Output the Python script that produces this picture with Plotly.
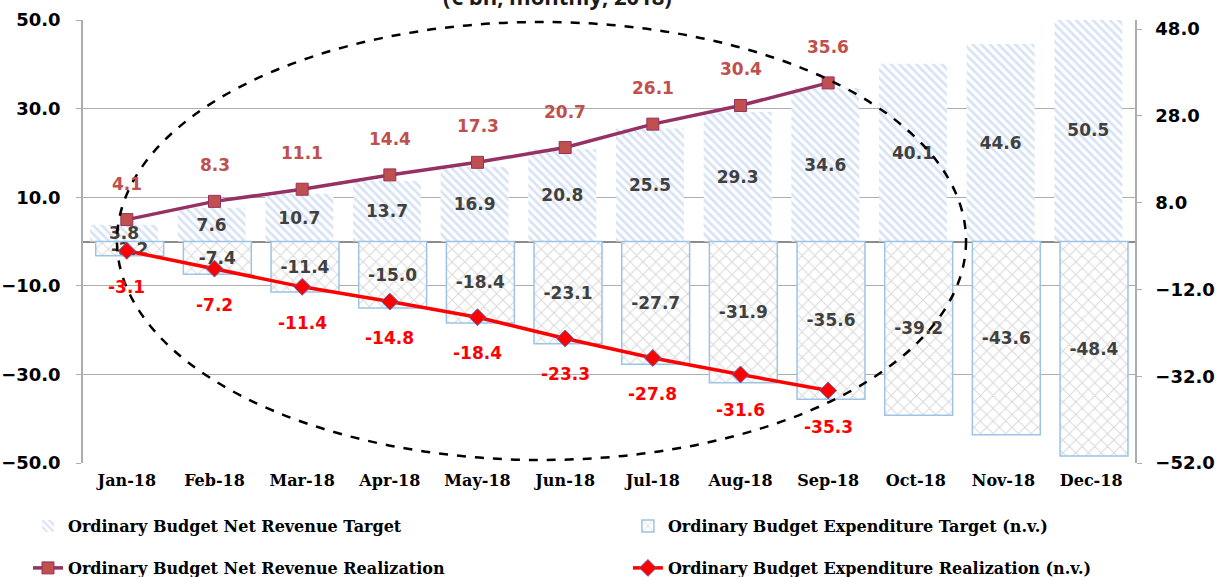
import plotly.graph_objects as go

months = ["Jan-18", "Feb-18", "Mar-18", "Apr-18", "May-18", "Jun-18",
          "Jul-18", "Aug-18", "Sep-18", "Oct-18", "Nov-18", "Dec-18"]
rev_target = [3.8, 7.6, 10.7, 13.7, 16.9, 20.8, 25.5, 29.3, 34.6, 40.1, 44.6, 50.5]
exp_target = [-3.2, -7.4, -11.4, -15.0, -18.4, -23.1, -27.7, -31.9, -35.6, -39.2, -43.6, -48.4]
rev_real = [4.1, 8.3, 11.1, 14.4, 17.3, 20.7, 26.1, 30.4, 35.6]
exp_real = [-3.1, -7.2, -11.4, -14.8, -18.4, -23.3, -27.8, -31.6, -35.3]
left_ticks = [-50, -30, -10, 10, 30, 50]
right_ticks = [-52, -32, -12, 8, 28, 48]

SANS = "DejaVu Sans"
SERIF = "DejaVu Serif"
GRID = "#ADADAD"
LBL = "#404040"
BOLD_LBL = dict(family=SANS, size=17, color=LBL, weight="bold")
LEG_FONT = dict(family=SERIF, size=16, color="black", weight="bold")

fig = go.Figure()

fig.add_trace(go.Bar(
    x=months, y=rev_target, name="Ordinary Budget Net Revenue Target",
    width=0.775, offset=-0.42,
    marker=dict(color="white", line=dict(width=0),
                pattern=dict(shape="\\", fgcolor="#B0C8EA", bgcolor="white", size=6, solidity=0.45)),
    text=[f"{v:.1f}" for v in rev_target], textposition="inside", insidetextanchor="middle",
    textangle=0, textfont=BOLD_LBL,
    legend="legend", yaxis="y"))

fig.add_trace(go.Bar(
    x=months, y=exp_target, name="Ordinary Budget Expenditure Target (n.v.)",
    width=0.775, offset=-0.355,
    marker=dict(color="white", line=dict(width=1.5, color="#9DC3E6"),
                pattern=dict(shape="x", fgcolor="#B4B4B4", bgcolor="white", size=9, solidity=0.22)),
    text=[f"{v:.1f}" for v in exp_target], textposition="inside", insidetextanchor="middle",
    textangle=0, textfont=BOLD_LBL,
    legend="legend2", yaxis="y"))

fig.add_trace(go.Scatter(
    x=months[:len(rev_real)], y=rev_real, name="Ordinary Budget Net Revenue Realization",
    mode="lines+markers", line=dict(color="#953163", width=3.5),
    marker=dict(symbol="square", size=12, color="#C0504D", line=dict(color="#953163", width=1)),
    legend="legend3", yaxis="y2"))

fig.add_trace(go.Scatter(
    x=months[:len(exp_real)], y=exp_real, name="Ordinary Budget Expenditure Realization (n.v.)",
    mode="lines+markers", line=dict(color="#FF0000", width=3.5),
    marker=dict(symbol="diamond", size=13, color="#FF0000", line=dict(color="#4F6FBD", width=1)),
    legend="legend4", yaxis="y2"))

annotations = []
for m, v in zip(months, rev_real):
    annotations.append(dict(x=m, y=v, xref="x", yref="y2", text=f"{v:.1f}", showarrow=False,
                            yshift=36, font=dict(family=SANS, size=17, color="#C0504D", weight="bold")))
for m, v in zip(months, exp_real):
    annotations.append(dict(x=m, y=v, xref="x", yref="y2", text=f"{v:.1f}", showarrow=False,
                            yshift=-36, font=dict(family=SANS, size=17, color="#FF0000", weight="bold")))
annotations.append(dict(x=0.451, y=1.0158, xref="paper", yref="paper", yanchor="bottom",
                        text="(€ bn, monthly, 2018)", showarrow=False,
                        font=dict(family="Open Sans", size=22, color="#1A1A1A", weight="bold")))


def leg(x, y):
    return dict(orientation="h", x=x, xanchor="left", y=y, yanchor="middle",
                font=LEG_FONT, bgcolor="rgba(0,0,0,0)", borderwidth=0)


fig.update_layout(
    width=1219, height=577,
    margin=dict(l=83, r=84, t=20, b=114, autoexpand=False),
    paper_bgcolor="white", plot_bgcolor="white",
    barmode="overlay",
    showlegend=True,
    legend=leg(-0.0523, -0.1422),
    legend2=leg(0.518, -0.1422),
    legend3=leg(-0.0523, -0.237),
    legend4=leg(0.518, -0.237),
    uniformtext=dict(minsize=17, mode="show"),
    xaxis=dict(type="category", categoryorder="array", categoryarray=months,
               range=[-0.5, len(months) - 0.5],
               showgrid=False, showline=False, ticks="", automargin=False,
               tickfont=dict(family=SERIF, size=16, color="black", weight="bold"),
               ticklabelstandoff=6),
    yaxis=dict(range=[-50, 50], tickvals=left_ticks, tickformat=".1f", automargin=False,
               showgrid=True, gridcolor=GRID, gridwidth=1.3,
               zeroline=True, zerolinecolor="#8C8C8C", zerolinewidth=1.5,
               showline=True, linecolor=GRID, linewidth=1.5,
               ticks="outside", ticklen=5, tickcolor=GRID, ticklabelstandoff=12,
               tickfont=dict(family=SANS, size=18, color="black", weight="bold")),
    yaxis2=dict(range=[-52, 50.1], tickvals=right_ticks, tickformat=".1f", automargin=False,
                overlaying="y", side="right", showgrid=False, zeroline=False,
                showline=True, linecolor=GRID, linewidth=1.5,
                ticks="outside", ticklen=5, tickcolor=GRID, ticklabelstandoff=10,
                tickfont=dict(family=SANS, size=18, color="black", weight="bold")),
    annotations=annotations,
    shapes=[dict(type="circle", xref="paper", yref="paper",
                 x0=0.0323, x1=0.8394, y0=0.0068, y1=0.9955,
                 line=dict(color="black", width=2.5, dash="dash"), layer="above")],
)

fig.write_html("out.html", config={"displayModeBar": False},
               post_script="document.body.style.margin='0px';")
